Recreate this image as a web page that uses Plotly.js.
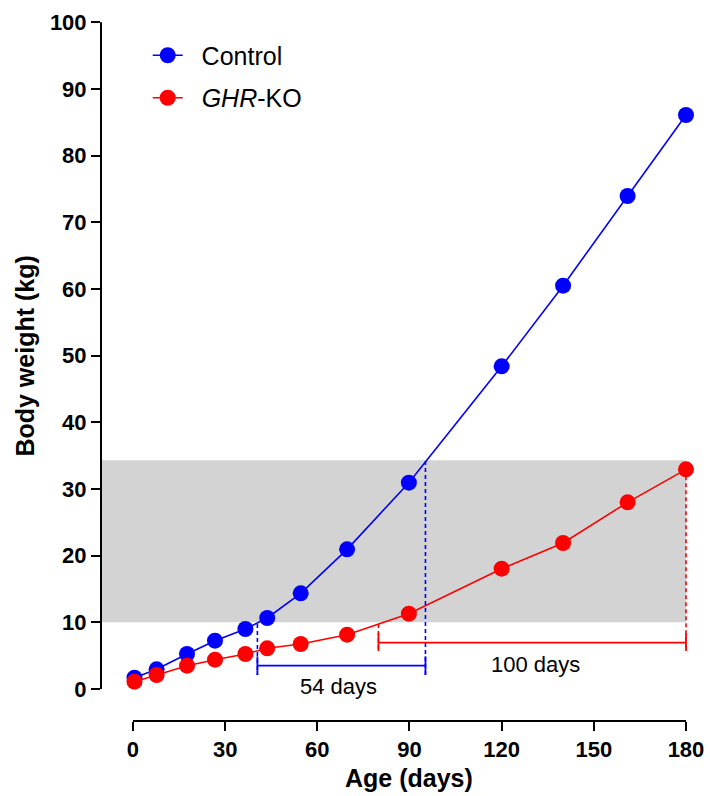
<!DOCTYPE html>
<html><head><meta charset="utf-8">
<script src="https://cdn.plot.ly/plotly-3.0.1.min.js"></script>
<style>body{margin:0;background:#fff;} #chart{width:710px;height:796px;}</style>
</head><body><div id="chart"></div>
<script>
// ---- data ----
const days      = [0.5, 7.7, 17.6, 26.7, 36.6, 43.7, 54.6, 69.7, 89.8, 120, 140, 161, 180];
const controlKg = [1.7, 2.95, 5.25, 7.25, 9.0, 10.65, 14.35, 20.95, 30.95, 48.4, 60.5, 73.95, 86.1];
const koKg      = [1.1, 2.1, 3.5, 4.4, 5.25, 6.1, 6.75, 8.15, 11.3, 18.05, 21.9, 28.0, 32.95];
const seriesNames = ['Control', '<i>GHR</i>-KO'];
const xTicks = [0, 30, 60, 90, 120, 150, 180];
const yTicks = [0, 10, 20, 30, 40, 50, 60, 70, 80, 90, 100];
const xTitle = 'Age (days)';
const yTitle = 'Body weight (kg)';
const bandKg = [10, 34.3];
// growth-span brackets: [control, KO]
const spanStartDay = [40.5, 79.9];
const spanEndDay   = [95.2, 180];
const spanLineKg   = [3.5, 6.95];
const spanCapLowKg = [2.1, 5.7];
const spanCapHighKg= [4.9, 8.4];
const spanStartTopKg = [9.75, 9.75];
const spanEndTopKg   = [34.2, 32.95];
const spanLabels   = ['54 days', '100 days'];
const spanLabelDay = [66.8, 130.9];
const spanLabelKg  = [0.35, 3.75];
const spanColors   = ['#0000ff', '#ff0000'];

const FONT = 'Arial, "Liberation Sans", sans-serif';
const xRange = [-10.4, 184.56];
const yRange = [-4.8, 100.05];
const PAD = '\u00a0\u00a0';

const traces = [
  {x: days, y: controlKg, name: PAD + seriesNames[0], mode: 'lines+markers', legendgroup: 'a',
   line: {color: '#0000ff', width: 1.6}, marker: {color: '#0000ff', size: 16}, cliponaxis: false},
  {x: days, y: koKg, name: PAD + seriesNames[1], mode: 'lines+markers', legendgroup: 'b',
   line: {color: '#ff0000', width: 1.6}, marker: {color: '#ff0000', size: 16}, cliponaxis: false}
];

const shapes = [
  {type: 'rect', xref: 'x', yref: 'y', x0: xRange[0], x1: xTicks[xTicks.length-1], y0: bandKg[0], y1: bandKg[1],
   fillcolor: '#d3d3d3', line: {width: 0}, layer: 'below'},
  {type: 'line', xref: 'paper', yref: 'y', x0: 0, x1: 0, y0: yTicks[0], y1: yTicks[yTicks.length-1],
   line: {color: '#000', width: 2}},
  {type: 'line', xref: 'x', yref: 'paper', x0: xTicks[0], x1: xTicks[xTicks.length-1], y0: 0, y1: 0,
   line: {color: '#000', width: 2}}
];
for (let i = 0; i < spanLabels.length; i++) {
  const c = spanColors[i];
  shapes.push({type: 'line', xref: 'x', yref: 'y', x0: spanStartDay[i], x1: spanStartDay[i],
    y0: spanStartTopKg[i], y1: spanCapLowKg[i], line: {color: c, width: 1.6, dash: '4px,3px'}});
  shapes.push({type: 'line', xref: 'x', yref: 'y', x0: spanEndDay[i], x1: spanEndDay[i],
    y0: spanEndTopKg[i], y1: spanCapLowKg[i], line: {color: c, width: 1.6, dash: '4px,3px'}});
  shapes.push({type: 'line', xref: 'x', yref: 'y', x0: spanStartDay[i], x1: spanEndDay[i],
    y0: spanLineKg[i], y1: spanLineKg[i], line: {color: c, width: 1.8}});
  shapes.push({type: 'line', xref: 'x', yref: 'y', x0: spanStartDay[i], x1: spanStartDay[i],
    y0: spanCapLowKg[i], y1: spanCapHighKg[i], line: {color: c, width: 1.8}});
  shapes.push({type: 'line', xref: 'x', yref: 'y', x0: spanEndDay[i], x1: spanEndDay[i],
    y0: spanCapLowKg[i], y1: spanCapHighKg[i], line: {color: c, width: 1.8}});
}
const annotations = spanLabels.map((t, i) => ({
  x: spanLabelDay[i], y: spanLabelKg[i], xref: 'x', yref: 'y', text: t, showarrow: false,
  font: {family: FONT, size: 22, color: '#000'}, xanchor: 'center', yanchor: 'middle'
}));
// axis titles centred on the drawn axis lines
annotations.push({x: (xTicks[0] + xTicks[xTicks.length-1]) / 2, y: -0.0815, xref: 'x', yref: 'paper',
  text: '<b>' + xTitle + '</b>', showarrow: false, xanchor: 'center', yanchor: 'middle',
  font: {family: FONT, size: 25, color: '#000'}});
annotations.push({x: -0.127, y: (yTicks[0] + yTicks[yTicks.length-1]) / 2, xref: 'paper', yref: 'y',
  text: '<b>' + yTitle + '</b>', showarrow: false, xanchor: 'center', yanchor: 'middle', textangle: -90,
  font: {family: FONT, size: 25, color: '#000'}});

const layout = {
  width: 710, height: 796,
  margin: {l: 101, r: 10, t: 22, b: 75},
  paper_bgcolor: '#fff', plot_bgcolor: 'rgba(0,0,0,0)',
  font: {family: FONT, color: '#000'},
  showlegend: true,
  legend: {x: 0.078, y: 0.985, xanchor: 'left', yanchor: 'top', bgcolor: 'rgba(0,0,0,0)',
    font: {family: FONT, size: 25, color: '#000'}, tracegroupgap: 7, itemwidth: 30},
  xaxis: {range: xRange, tickmode: 'array', tickvals: xTicks, ticktext: xTicks.map(String),
    showgrid: false, zeroline: false, showline: false, ticks: 'outside', ticklen: 9, tickwidth: 2, tickcolor: '#000',
    tickfont: {family: FONT, size: 22, color: '#000', weight: 'bold'}},
  yaxis: {range: yRange, tickmode: 'array', tickvals: yTicks, ticktext: yTicks.map(String),
    showgrid: false, zeroline: false, showline: false, ticks: 'outside', ticklen: 9, tickwidth: 2, tickcolor: '#000',
    tickfont: {family: FONT, size: 22, color: '#000', weight: 'bold'}},
  shapes: shapes,
  annotations: annotations
};
Plotly.newPlot('chart', traces, layout, {displayModeBar: false, staticPlot: true});
</script>
</body></html>
